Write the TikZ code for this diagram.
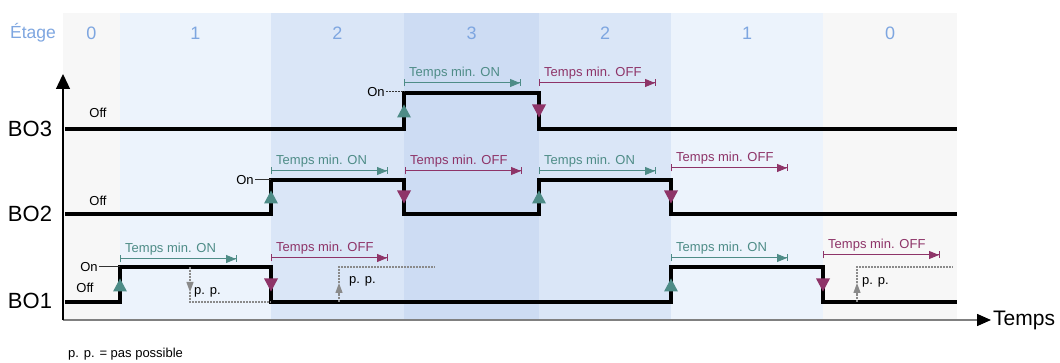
\documentclass[tikz,border=0pt]{standalone}
\usepackage{fontspec}
\setmainfont{Liberation Sans}
\usepackage{xcolor}
\definecolor{cBandA}{HTML}{F7F7F7}
\definecolor{cBandB}{HTML}{ECF3FC}
\definecolor{cBandC}{HTML}{DAE6F7}
\definecolor{cBandD}{HTML}{CDDCF3}
\definecolor{cStage}{HTML}{7EA6E0}
\definecolor{cOn}{HTML}{4E8C87}
\definecolor{cOff}{HTML}{8E3468}
\definecolor{cGray}{HTML}{8A8A8A}
\definecolor{cAxis}{HTML}{808080}
\usetikzlibrary{positioning,arrows.meta,calc}
\tikzset{
  sig-line/.style={line width=3.2pt,line join=miter,draw=black},
  axis-y/.style={line width=1.3pt,draw=black,-{Triangle[length=15pt,width=14pt]}},
  axis-x/.style={line width=1.5pt,draw=cAxis,
    -{Triangle[length=14pt,width=12pt,color=black,fill=black]}},
  dim-arrow/.style={line width=1pt,
    {Bar[width=7pt]}-{Triangle[length=10pt,width=8pt]Bar[width=7pt]}},
  dim-label/.style={anchor=west,inner sep=0pt,font=\fontsize{13pt}{15pt}\selectfont},
  stage-label/.style={text=cStage,font=\fontsize{18pt}{20pt}\selectfont},
  bo-label/.style={font=\fontsize{22pt}{24pt}\selectfont},
  lvl-label/.style={inner sep=1pt,font=\fontsize{13pt}{15pt}\selectfont},
  on-tick/.style={line width=1pt,draw=black!80},
  pp-line/.style={line width=1.2pt,draw=cGray,dash pattern=on 2pt off 1pt},
  pp-arrow/.style={pp-line,-{Triangle[length=10pt,width=7pt]}},
  pics/tri-up/.style={code={\fill[cOn] (-7,6.5) -- (7,6.5) -- (0,-6.5) -- cycle;}},
  pics/tri-down/.style={code={\fill[cOff] (-7,-6.5) -- (7,-6.5) -- (0,6.5) -- cycle;}},
}

\begin{document}
\begin{tikzpicture}[x=1pt,y=-1pt]
  \useasboundingbox (0,0) rectangle (1060,363);
  % bandes des étages
  \foreach \a/\b/\c/\n [count=\i] in {63/120/cBandA/0, 120/271/cBandB/1,
      271/404/cBandC/2, 404/539/cBandD/3, 539/671/cBandC/2,
      671/823/cBandB/1, 823/957/cBandA/0}{
    \fill[\c] (\a,13) rectangle (\b,320);
    \node[stage-label] (stage\i) at ({(\a+\b)/2},33) {\n};
  }
  \node[stage-label,font=\fontsize{17.5pt}{20pt}\selectfont] (etage) at (33,33) {Étage};

  % axes
  \coordinate (origin) at (63,320);
  \coordinate (ytip) at (63,74);
  \node[bo-label,anchor=west,inner sep=2pt,font=\fontsize{21pt}{24pt}\selectfont]
    (temps) at (991,320) {Temps};
  \draw[axis-x] (origin) -- (temps.west);
  \draw[axis-y] (origin) -- (ytip);

  \node[bo-label] (bo3) at (30,129) {BO3};
  \node[bo-label] (bo2) at (30,214) {BO2};
  \node[bo-label] (bo1) at (30,301) {BO1};

  % signaux
  \draw[sig-line] (65,129) -- (404,129) -- (404,93) -- (539,93) -- (539,129) -- (957,129);
  \draw[sig-line] (65,214) -- (271,214) -- (271,180) -- (404,180) -- (404,214)
    -- (539,214) -- (539,180) -- (671,180) -- (671,214) -- (957,214);
  \draw[sig-line] (65,302) -- (120,302) -- (120,267) -- (271,267) -- (271,302)
    -- (671,302) -- (671,267) -- (823,267) -- (823,302) -- (957,302);

  % fronts
  \foreach \x/\y in {404/111, 271/197, 539/197, 120/285, 671/285}
    \pic at (\x,\y) {tri-up};
  \foreach \x/\y in {539/111, 404/197, 671/197, 271/285, 823/285}
    \pic at (\x,\y) {tri-down};

  % niveaux On / Off
  \node[lvl-label] (bo3-off) at (98,113) {Off};
  \node[lvl-label] (bo2-off) at (98,201) {Off};
  \node[lvl-label] (bo1-off) at (85,288) {Off};
  \node[lvl-label] (bo3-on) at (376,92) {On};
  \node[lvl-label] (bo2-on) at (245,180) {On};
  \node[lvl-label] (bo1-on) at (89,267) {On};
  \coordinate (bo3-rise) at (404,92);
  \coordinate (bo2-rise) at (271,180);
  \coordinate (bo1-rise) at (120,267);
  \draw[on-tick,dash pattern=on 2pt off 1pt] (bo3-on) -- (bo3-rise);
  \draw[on-tick] (bo2-on) -- (bo2-rise);
  \draw[on-tick] (bo1-on) -- (bo1-rise);

  % temps minimaux
  \foreach \x/\y/\c/\t [count=\i] in {404/83/cOn/ON, 539/83/cOff/OFF,
      271/171/cOn/ON, 405/171/cOff/OFF, 539/171/cOn/ON, 671/168/cOff/OFF,
      120/259/cOn/ON, 271/258/cOff/OFF, 671/258/cOn/ON, 823/255/cOff/OFF}{
    \coordinate (dim\i-s) at (\x,\y);
    \coordinate (dim\i-e) at (\x+117,\y);
    \draw[dim-arrow,draw=\c] (dim\i-s) -- (dim\i-e);
    \node[dim-label,text=\c] (dim\i-lbl) at ($(dim\i-s)+(5,-10)$) {Temps min. \t};
  }

  % pas possible
  \coordinate (pp1-a) at (190,267);
  \coordinate (pp1-b) at (190,292);
  \coordinate (pp1-c) at (190,302);
  \coordinate (pp1-d) at (271,302);
  \draw[pp-arrow] (pp1-a) -- (pp1-b);
  \draw[pp-line] (pp1-b) -- (pp1-c) -- (pp1-d);
  \node[lvl-label,anchor=west] (pp1) at (193,292) {p. p.};

  \coordinate (pp2-a) at (339,302);
  \coordinate (pp2-b) at (339,283);
  \coordinate (pp2-c) at (339,267);
  \coordinate (pp2-d) at (435,267);
  \draw[pp-arrow] (pp2-a) -- (pp2-b);
  \draw[pp-line] (pp2-b) -- (pp2-c) -- (pp2-d);
  \node[lvl-label,anchor=west] (pp2) at (348,281) {p. p.};

  \coordinate (pp3-a) at (857,302);
  \coordinate (pp3-b) at (857,283);
  \coordinate (pp3-c) at (857,267);
  \coordinate (pp3-d) at (953,267);
  \draw[pp-arrow] (pp3-a) -- (pp3-b);
  \draw[pp-line] (pp3-b) -- (pp3-c) -- (pp3-d);
  \node[lvl-label,anchor=west] (pp3) at (861,282) {p. p.};

  \node[lvl-label,anchor=west] (legend) at (67,354) {p. p. = pas possible};
\end{tikzpicture}
\end{document}
